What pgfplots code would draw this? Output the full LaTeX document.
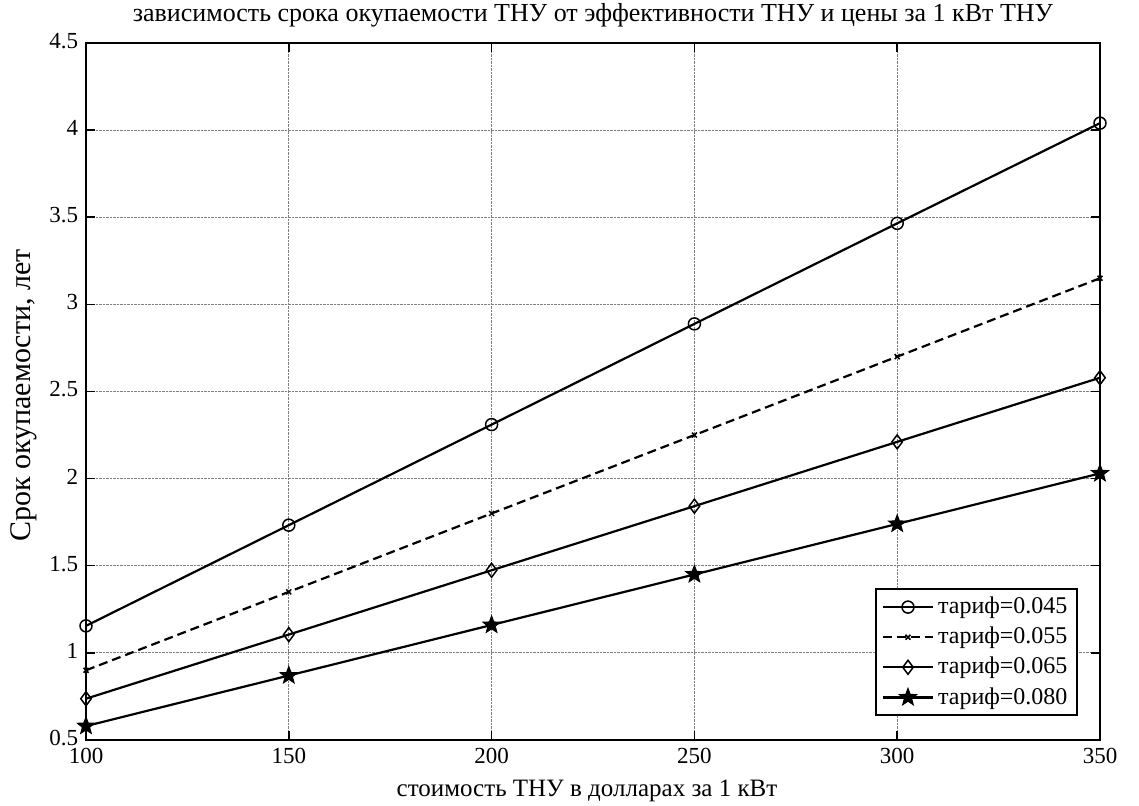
\documentclass[border=0pt]{standalone}
\usepackage{pgfplots}
\pgfplotsset{compat=1.18}
\usepackage{fontspec}
\setmainfont{Liberation Serif}
\pgfdeclareplotmark{fstar}{%
  \pgfpathmoveto{\pgfqpointpolar{90}{\pgfplotmarksize}}%
  \pgfpathlineto{\pgfqpointpolar{126}{0.42\pgfplotmarksize}}%
  \pgfpathlineto{\pgfqpointpolar{162}{\pgfplotmarksize}}%
  \pgfpathlineto{\pgfqpointpolar{198}{0.42\pgfplotmarksize}}%
  \pgfpathlineto{\pgfqpointpolar{234}{\pgfplotmarksize}}%
  \pgfpathlineto{\pgfqpointpolar{270}{0.42\pgfplotmarksize}}%
  \pgfpathlineto{\pgfqpointpolar{306}{\pgfplotmarksize}}%
  \pgfpathlineto{\pgfqpointpolar{342}{0.42\pgfplotmarksize}}%
  \pgfpathlineto{\pgfqpointpolar{18}{\pgfplotmarksize}}%
  \pgfpathlineto{\pgfqpointpolar{54}{0.42\pgfplotmarksize}}%
  \pgfpathclose
  \pgfusepathqfillstroke}
\begin{document}
\fontsize{23}{27}\selectfont
\begin{tikzpicture}
\path[use as bounding box] (0,0) rectangle (1139pt,805pt);
\begin{axis}[
  at={(86pt,65pt)}, anchor=south west,
  scale only axis, width=1014pt, height=697pt,
  xmin=100, xmax=350, ymin=0.5, ymax=4.5,
  xtick={100,150,...,350}, ytick={0.5,1,...,4.5},
  /pgf/number format/assume math mode=true,
  tick label style={font=\fontsize{23}{27}\selectfont},
  yticklabel style={yshift=2pt},
  title style={font=\fontsize{26}{30}\selectfont, at={(0.5,1)}, yshift=2pt},
  title={зависимость срока окупаемости ТНУ от эффективности ТНУ и цены за 1 кВт ТНУ},
  xlabel={стоимость ТНУ в долларах за 1 кВт},
  ylabel={Срок окупаемости, лет},
  xlabel style={font=\fontsize{25}{29}\selectfont, yshift=-1pt, xshift=-6pt},
  ylabel style={font=\fontsize{30}{34}\selectfont, yshift=-3pt, xshift=-4pt},
  grid=major,
  major grid style={densely dotted, gray, line width=0.8pt},
  axis line style={line width=2pt},
  tick style={black, line width=1.5pt},
  tick align=inside, major tick length=9pt,
  xtick pos=both, ytick pos=both,
  xticklabel pos=lower, yticklabel pos=left,
  legend style={at={(0.778,0.218)}, anchor=north west, draw=black, line width=2pt,
    font=\fontsize{24}{28}\selectfont, row sep=6pt, inner xsep=6pt, inner ysep=6pt,
    cells={anchor=west}, nodes={inner xsep=4pt}},
  legend cell align=left,
  legend image code/.code={%
    \draw[#1, mark repeat=2, mark phase=2] plot coordinates {(0pt,0pt) (25pt,0pt) (50pt,0pt)};},
  every axis plot/.append style={line width=2.2pt, black},
]
\addplot[mark=o, mark size=6pt, mark options={solid, line width=1.5pt}] coordinates {
 (100,1.155) (150,1.733) (200,2.31) (250,2.888) (300,3.465) (350,4.04)};
\addlegendentry{тариф=0.045}
\addplot[dash pattern=on 9pt off 5pt, mark=x, mark size=3.5pt, mark options={solid, line width=1.5pt}] coordinates {
 (100,0.90) (150,1.35) (200,1.80) (250,2.25) (300,2.70) (350,3.15)};
\addlegendentry{тариф=0.055}
\addplot[mark=diamond, mark size=7pt, mark options={solid, line width=1.5pt}] coordinates {
 (100,0.737) (150,1.105) (200,1.474) (250,1.842) (300,2.211) (350,2.579)};
\addlegendentry{тариф=0.065}
\addplot[mark=fstar, mark size=9pt, mark options={solid, line width=1pt, fill=black}] coordinates {
 (100,0.58) (150,0.87) (200,1.16) (250,1.45) (300,1.74) (350,2.03)};
\addlegendentry{тариф=0.080}
\end{axis}
\end{tikzpicture}
\end{document}
